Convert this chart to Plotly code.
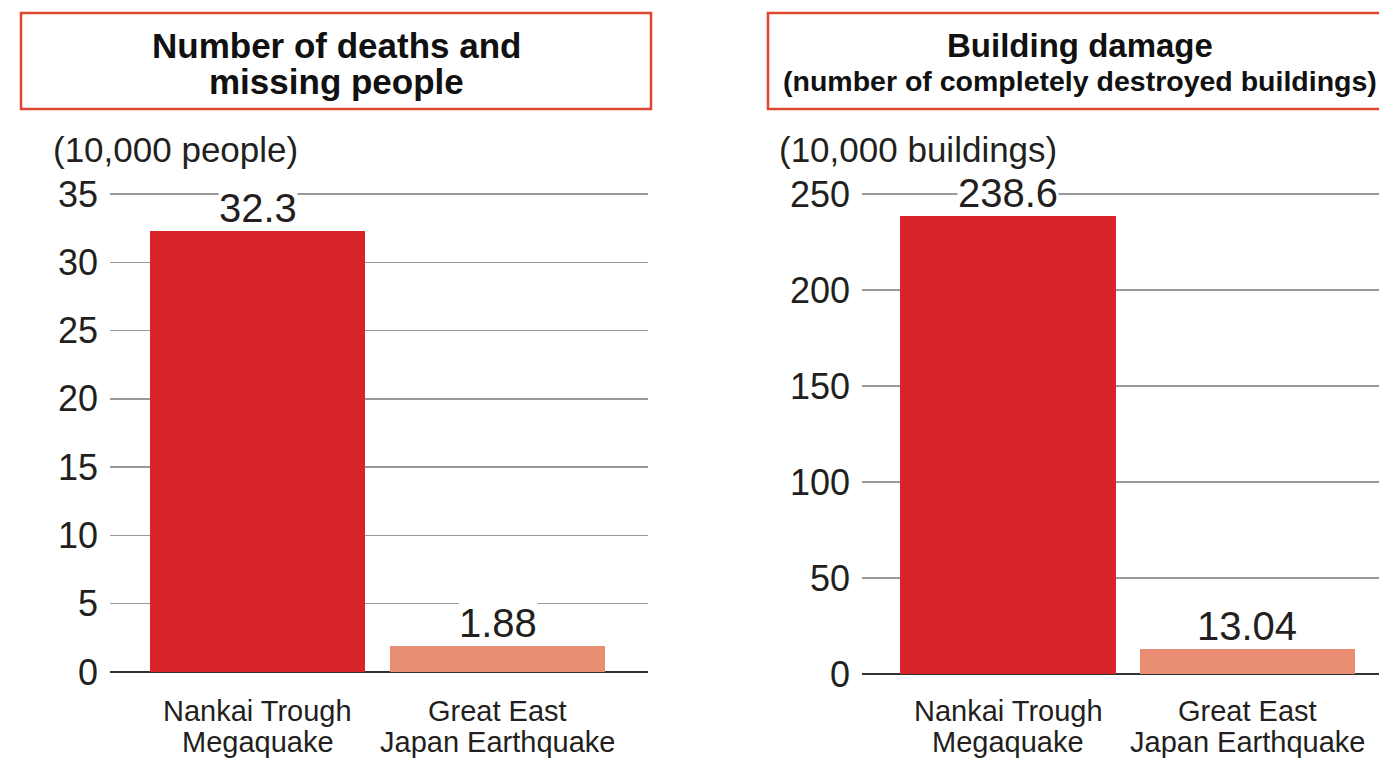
import plotly.graph_objects as go

categories = ["Nankai Trough<br>Megaquake", "Great East<br>Japan Earthquake"]
deaths = [32.3, 1.88]
deaths_labels = ["32.3", "1.88"]
buildings = [238.6, 13.04]
buildings_labels = ["238.6", "13.04"]
deaths_ticks = [0, 5, 10, 15, 20, 25, 30, 35]
buildings_ticks = [0, 50, 100, 150, 200, 250]
bar_colors = ["#D7242A", "#E98D73"]

W, H = 1379, 765
FONT = "Liberation Sans, Arial, Helvetica, sans-serif"
TXT = "#231F20"

def px(x):
    return x / W

def py(y):
    return 1 - y / H

fig = go.Figure()
xs = list(range(len(categories)))

fig.add_trace(go.Bar(x=xs, y=deaths, marker=dict(color=bar_colors, line=dict(width=0)),
                     width=0.896, xaxis="x", yaxis="y", hoverinfo="skip", showlegend=False))
fig.add_trace(go.Bar(x=xs, y=buildings, marker=dict(color=bar_colors, line=dict(width=0)),
                     width=0.9, xaxis="x2", yaxis="y2", hoverinfo="skip", showlegend=False))

annotations = []
for xref, yref, vals, labs in (("x", "y", deaths, deaths_labels), ("x2", "y2", buildings, buildings_labels)):
    for i, (v, t) in enumerate(zip(vals, labs)):
        annotations.append(dict(x=i, y=v, xref=xref, yref=yref, text=t, showarrow=False,
                                yanchor="middle", yshift=23, bgcolor="white", borderpad=0,
                                font=dict(family=FONT, size=40, color=TXT)))
    # category labels, one annotation per line
    for i, cat in enumerate(categories):
        for j, line in enumerate(cat.split("<br>")):
            annotations.append(dict(x=i, y=py(711 + 31 * j), xref=xref, yref="paper", text=line,
                                    showarrow=False, xanchor="center", yanchor="middle",
                                    font=dict(family=FONT, size=29, color=TXT)))

annotations += [
    dict(x=px(336), y=py(45), xref="paper", yref="paper", showarrow=False,
         text="<b>Number of deaths and</b>", xanchor="center", yanchor="middle",
         font=dict(family=FONT, size=35, color="#111")),
    dict(x=px(336), y=py(82), xref="paper", yref="paper", showarrow=False,
         text="<b>missing people</b>", xanchor="center", yanchor="middle",
         font=dict(family=FONT, size=35, color="#111")),
    dict(x=px(1080), y=py(45), xref="paper", yref="paper", showarrow=False,
         text="<b>Building damage</b>", xanchor="center", yanchor="middle",
         font=dict(family=FONT, size=33, color="#111")),
    dict(x=px(1080), y=py(81), xref="paper", yref="paper", showarrow=False,
         text="<b>(number of completely destroyed buildings)</b>",
         xanchor="center", yanchor="middle",
         font=dict(family=FONT, size=28.5, color="#111")),
    dict(x=px(51), y=py(150), xref="paper", yref="paper", showarrow=False,
         text="(10,000 people)", xanchor="left", yanchor="middle",
         font=dict(family=FONT, size=35, color=TXT)),
    dict(x=px(777), y=py(150), xref="paper", yref="paper", showarrow=False,
         text="(10,000 buildings)", xanchor="left", yanchor="middle",
         font=dict(family=FONT, size=35, color=TXT)),
]

box_color = "#E0452F"
shapes = [
    dict(type="rect", xref="paper", yref="paper", x0=px(21), x1=px(651), y0=py(109), y1=py(13),
         line=dict(color=box_color, width=2.5)),
    dict(type="rect", xref="paper", yref="paper", x0=px(768), x1=px(1390), y0=py(109), y1=py(13),
         line=dict(color=box_color, width=2.5)),
]

axis_common = dict(showgrid=True, gridcolor="#999999", gridwidth=1.5, zeroline=True,
                   zerolinecolor="#333333", zerolinewidth=2, showline=False, ticks="",
                   tickfont=dict(family=FONT, size=36, color=TXT), ticklabelstandoff=11,
                   automargin=False, fixedrange=True)
xaxis_common = dict(showgrid=False, zeroline=False, showline=False, showticklabels=False,
                    ticks="", automargin=False, fixedrange=True)

fig.update_layout(
    width=W, height=H,
    margin=dict(l=0, r=0, t=0, b=0, pad=0),
    autosize=False,
    paper_bgcolor="white", plot_bgcolor="white",
    xaxis=dict(domain=[px(110), px(648)], range=[-0.615, 1.627], anchor="y", **xaxis_common),
    yaxis=dict(domain=[py(672), py(192.6)], range=[0, 35.1], tickvals=deaths_ticks, anchor="x", **axis_common),
    xaxis2=dict(domain=[px(862), 1.0], range=[-0.611, 1.552], anchor="y2", **xaxis_common),
    yaxis2=dict(domain=[py(674), py(192.1)], range=[0, 251], tickvals=buildings_ticks, anchor="x2", **axis_common),
    annotations=annotations,
    shapes=shapes,
    bargap=0,
)

fig.write_html("out.html", config={"displayModeBar": False, "staticPlot": True},
               post_script="document.body.style.margin='0';document.body.style.overflow='hidden';")
